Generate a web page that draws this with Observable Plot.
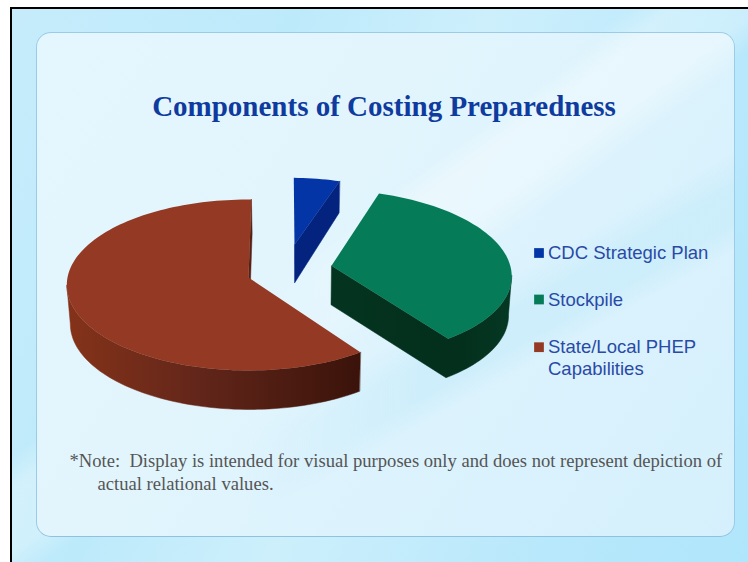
<!DOCTYPE html>
<html>
<head>
<meta charset="utf-8">
<script src="https://cdn.jsdelivr.net/npm/d3@7"></script>
<script src="https://cdn.jsdelivr.net/npm/@observablehq/plot@0.6"></script>
<style>
html,body{margin:0;padding:0;background:#fff;width:748px;height:562px;overflow:hidden}
#slide{position:absolute;left:10px;top:7px;width:736px;height:553px;border-left:2px solid #000;border-top:2px solid #000;overflow:hidden;
background:
 linear-gradient(144deg,rgba(255,255,255,0) 41%,rgba(255,255,255,.28) 44%,rgba(255,255,255,.28) 50%,rgba(255,255,255,0) 53%),
 linear-gradient(112deg,#c6ecfb 0%,#bdeafb 30%,#cdeffc 50%,#b8e8fb 78%,#b0e6fb 100%);}
#panel{position:absolute;left:36px;top:32px;width:699px;height:505px;box-sizing:border-box;border-radius:15px;border:1.5px solid #9ccbe8;border-bottom-color:#8fc2e0;overflow:hidden;
background:linear-gradient(125deg,#e4f6fe 0%,#e2f5fd 38%,#dcf3fd 62%,#d5f0fc 100%);}
#panel::before{content:"";position:absolute;inset:0;
background:
 linear-gradient(144deg,rgba(255,255,255,0) 41%,rgba(255,255,255,.34) 44%,rgba(255,255,255,.34) 50%,rgba(255,255,255,0) 54%),
 linear-gradient(150.6deg,rgba(176,228,248,0) 57%,rgba(176,228,248,.3) 61%,rgba(176,228,248,.3) 65%,rgba(176,228,248,0) 68%);
-webkit-mask-image:linear-gradient(90deg,transparent 30%,#000 55%);mask-image:linear-gradient(90deg,transparent 30%,#000 55%);}
#chart{position:absolute;left:0;top:0}
</style>
</head>
<body>
<div id="slide"></div>
<div id="panel"></div>
<div id="chart"></div>
<script>
// --- data ---
const categories = ["CDC Strategic Plan", "Stockpile", "State/Local PHEP Capabilities"];
const shares = [5, 35, 60];
const legendLabels = ["CDC Strategic Plan", "Stockpile", "State/Local PHEP\nCapabilities"];
const titleText = "Components of Costing Preparedness";
const noteLines = ["*Note:  Display is intended for visual purposes only and does not represent depiction of", "actual relational values."];

// --- styles ---
const topColors = ["#0435a6", "#067b57", "#943a24"];
const sideColors = ["#03237f", "url(#sideGreen)", "url(#sideRed)"];

// --- layout: projection of the tilted, exploded pie ---
const centre = {x: 248, y: 277}, radius = {x: 181, y: 84.8}, perspective = 0.0877;
const explode = [{u: 0.263, v: -0.40, k: 0.91}, {u: 0.464, v: -0.14, k: 1}, {u: 0, v: 0, k: 1}];
const legendTextY = [258, 305, 374], legendDotY = [252.5, 299, 346.7];
const noteX = [69, 97], noteY = [466, 489];
const arcs = d3.pie().sort(null).startAngle((1 * Math.PI) / 180).endAngle((361 * Math.PI) / 180)(shares);

const depthAt = d3.scaleLinear([-1.35, -0.3], [31, 39]).clamp(true);
function project(u, v) {
  const s = 1 / (1 - perspective * v);
  return {x: centre.x + radius.x * u * s, y: centre.y + radius.y * v * s, v};
}
function lower(p) { // the same point on the lower face of the disc
  return {x: p.x - (p.x - 300) * 0.015, y: p.y + depthAt(p.v)};
}

const slices = arcs.map((a, i) => {
  const e = explode[i], rim = [];
  const n = Math.max(4, Math.round((a.endAngle - a.startAngle) / 0.03));
  for (let j = 0; j <= n; ++j) {
    const t = a.startAngle + ((a.endAngle - a.startAngle) * j) / n;
    rim.push(project(e.u + e.k * Math.sin(t), e.v - e.k * Math.cos(t)));
  }
  const outline = [...rim, project(e.u, e.v)];
  // faces that look at the viewer: outline runs that travel right to left
  const runs = [];
  let run = null;
  for (let j = 0; j < outline.length - 1; ++j) {
    if (outline[j + 1].x < outline[j].x) {
      if (!run) { run = [outline[j]]; runs.push(run); }
      run.push(outline[j + 1]);
    } else run = null;
  }
  const faces = runs.map((r) => [...r, ...r.slice().reverse().map(lower)]);
  return {category: categories[i], outline, faces, side: sideColors[i]};
});

const defs = () => {
  const d = d3.create("svg:defs");
  const grad = (id, x1, x2, stops) => {
    const g = d.append("linearGradient").attr("id", id).attr("gradientUnits", "userSpaceOnUse")
      .attr("x1", x1).attr("x2", x2).attr("y1", 0).attr("y2", 0);
    stops.forEach(([o, c]) => g.append("stop").attr("offset", o).attr("stop-color", c));
  };
  grad("sideRed", 65, 357, [[0, "#853319"], [0.45, "#63261a"], [1, "#3b130a"]]);
  grad("sideGreen", 330, 510, [[0, "#04341f"], [0.7, "#032f1c"], [1, "#053824"]]);
  return d.node();
};

const topRows = (s) => s.outline.map((p) => ({...p, category: s.category}));
const sideMarks = (s) => s.faces.map((f) =>
  Plot.line(f, {x: "x", y: "y", fill: s.side, stroke: s.side, strokeWidth: 0.5, curve: "linear-closed"}));
const topMark = (s) => Plot.line(topRows(s), {x: "x", y: "y", fill: "category", z: "category", stroke: "none", curve: "linear-closed"});

const [blue, green, red] = slices;
const legendRows = categories.map((c, i) => ({category: c, label: legendLabels[i], ty: legendTextY[i], dy: legendDotY[i]}));
const noteRows = noteLines.map((t, i) => ({t, x: noteX[i], y: noteY[i]}));

const plot = Plot.plot({
  width: 748, height: 562, margin: 0,
  style: {background: "transparent"},
  x: {axis: null, domain: [0, 748], range: [0, 748]},
  y: {axis: null, domain: [0, 562], range: [0, 562]},
  color: {domain: categories, range: topColors},
  marks: [
    defs,
    ...sideMarks(blue), topMark(blue),
    ...sideMarks(red), topMark(red),
    ...sideMarks(green), topMark(green),
    Plot.dot(legendRows, {x: () => 538.5, y: "dy", symbol: "square", r: 5.5, fill: "category"}),
    Plot.text(legendRows, {x: () => 547.5, y: "ty", text: "label", fill: () => "#2a4aa6", textAnchor: "start", lineAnchor: "bottom",
      fontFamily: "Liberation Sans", fontSize: 18.5, lineHeight: 1.14}),
    Plot.text([titleText], {x: () => 383.5, y: () => 115, text: (d) => d, fill: () => "#0f3b9f", textAnchor: "middle", lineAnchor: "bottom",
      fontFamily: "Liberation Serif", fontWeight: "bold", fontSize: 29}),
    Plot.text(noteRows, {x: "x", y: "y", text: "t", fill: () => "#555555", textAnchor: "start", lineAnchor: "bottom",
      fontFamily: "Liberation Serif", fontSize: 18.6})
  ]
});
document.getElementById("chart").append(plot);
</script>
</body>
</html>
